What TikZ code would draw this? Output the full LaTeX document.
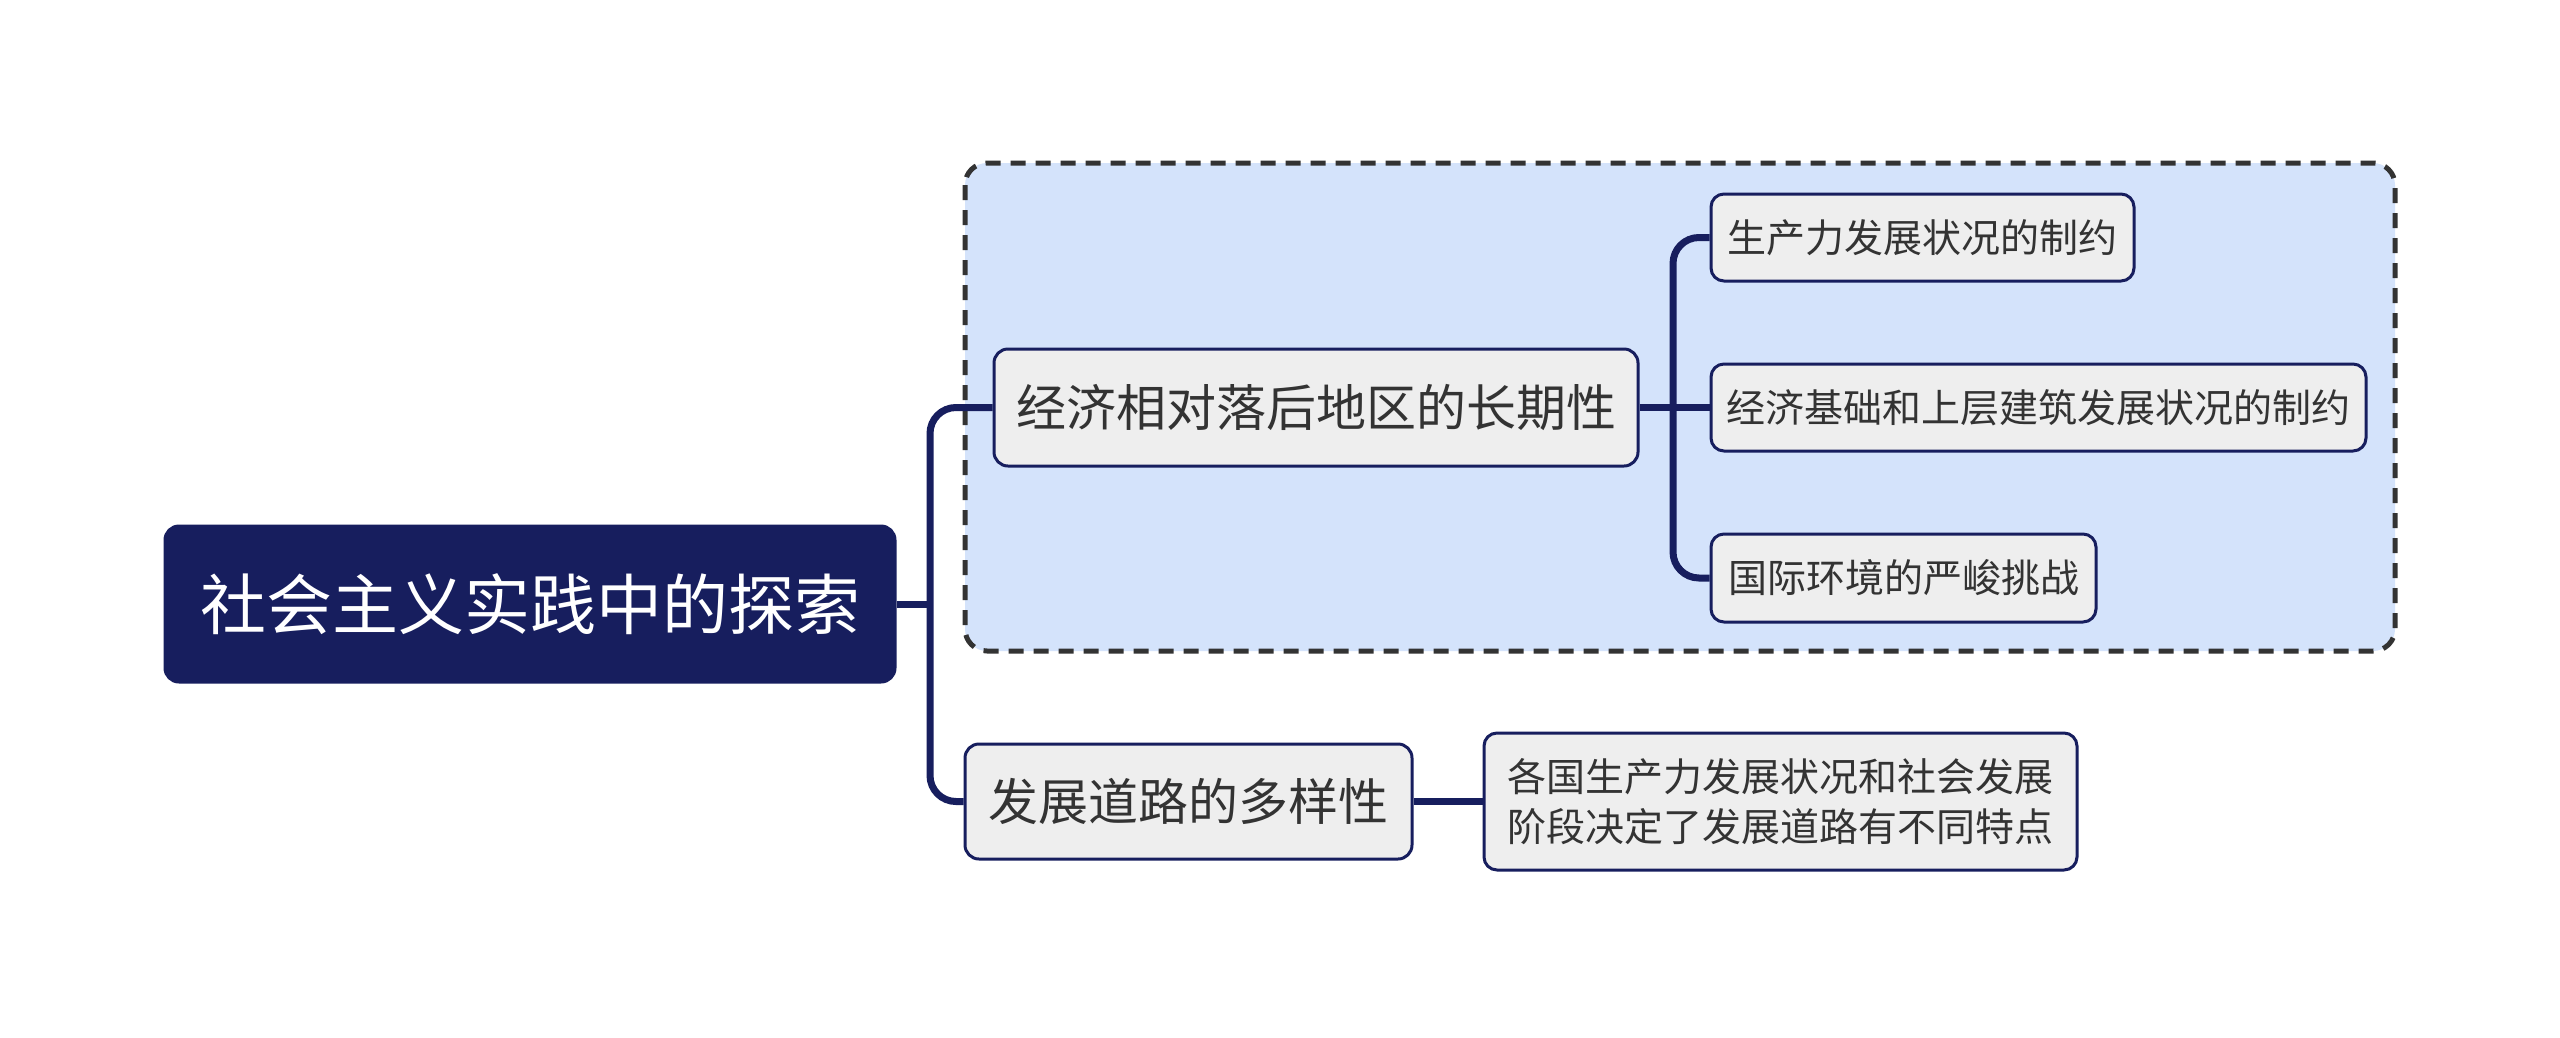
\documentclass[tikz,border=0pt]{standalone}
\usepackage{fontspec}
\usetikzlibrary{backgrounds}
\newfontfamily\cjk{Noto Sans CJK SC}
\definecolor{navy}{HTML}{171E5E}
\definecolor{nodefill}{HTML}{EEEEEE}
\definecolor{boxfill}{HTML}{D4E3FB}
\definecolor{txt}{HTML}{333333}
\definecolor{dashc}{HTML}{333333}
\tikzset{
  rootbox/.style={draw=navy, fill=navy, line width=3pt, rounded corners=14pt, text=white, font=\cjk\fontsize{66}{80}\selectfont, inner sep=0pt},
  midbox/.style={draw=navy, fill=nodefill, line width=3pt, rounded corners=14pt, text=txt, font=\cjk\fontsize{50}{60}\selectfont, inner sep=0pt},
  leafbox/.style={draw=navy, fill=nodefill, line width=3pt, rounded corners=13pt, text=txt, font=\cjk\fontsize{39}{50.6}\selectfont, inner sep=0pt, align=center},
  conn/.style={draw=navy, line width=7pt, rounded corners=26pt},
  groupbox/.style={draw=dashc, fill=boxfill, line width=5pt, dash pattern=on 15pt off 10pt, rounded corners=22pt}
}
\begin{document}
\begin{tikzpicture}[x=1pt, y=-1pt]
\useasboundingbox (0,0) rectangle (2560,1037);
% nodes
\node[rootbox, minimum width=730pt, minimum height=156pt] (root) at (530,604) {社会主义实践中的探索};
\node[midbox, minimum width=644pt, minimum height=117pt] (n1) at (1316,407.5) {经济相对落后地区的长期性};
\node[midbox, minimum width=447pt, minimum height=115pt] (n2) at (1188.5,801.5) {发展道路的多样性};
\node[leafbox, minimum width=423pt, minimum height=87pt] (l1) at (1922.5,237.5) {生产力发展状况的制约};
\node[leafbox, minimum width=655pt, minimum height=87pt] (l2) at (2038.5,407.5) {经济基础和上层建筑发展状况的制约};
\node[leafbox, minimum width=385pt, minimum height=88pt] (l3) at (1903.5,578) {国际环境的严峻挑战};
\node[leafbox, minimum width=593pt, minimum height=137pt] (l4) at (1780.5,801.5) {各国生产力发展状况和社会发展\\阶段决定了发展道路有不同特点};
% trunk coordinates
\coordinate (t1) at (930,604);
\coordinate (t2) at (1673,407.5);
\begin{scope}[on background layer]
\fill[white] (0,0) rectangle (2560,1037);
\draw[groupbox] (965,163) rectangle (2395,651);
\draw[conn] (root.east) -- (t1);
\draw[conn] (n1.west) -| (t1) |- (n2.west);
\draw[conn] (n1.east) -- (l2.west);
\draw[conn] (l1.west) -| (t2) |- (l3.west);
\draw[conn] (n2.east) -- (l4.west);
\end{scope}
\end{tikzpicture}
\end{document}
